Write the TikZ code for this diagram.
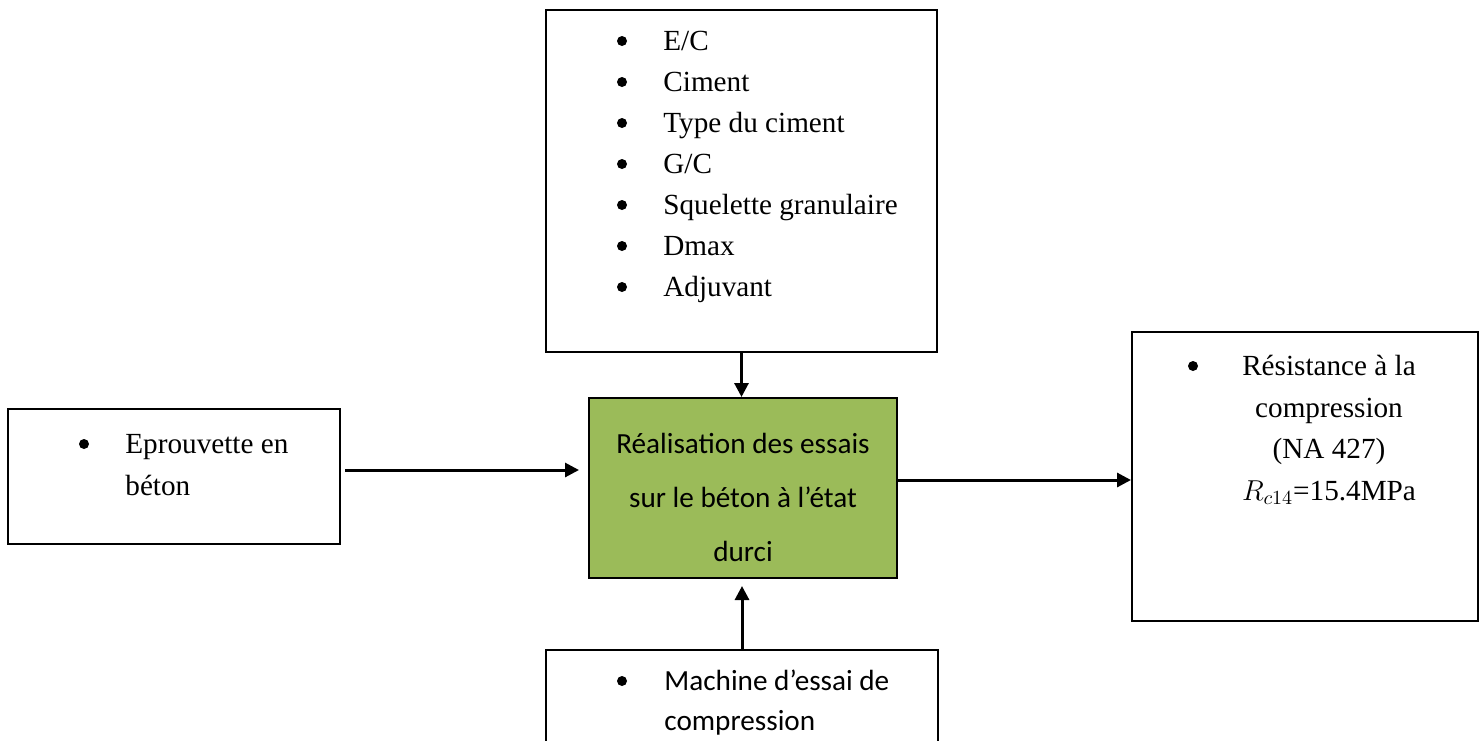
\documentclass[tikz,border=0pt]{standalone}
\usepackage{fontspec}
\setmainfont{Liberation Serif}
\newfontfamily\calfont{Carlito}
\usetikzlibrary{arrows.meta,fit}
\definecolor{olivegreen}{HTML}{9BBB59}
\begin{document}
\begin{tikzpicture}[x=0.5pt,y=-0.5pt,
  box/.style={draw=black,line width=1pt,inner sep=0pt},
  tnr/.style={font=\fontsize{14.6}{17}\selectfont,inner sep=0pt},
  cal/.style={font=\calfont\fontsize{14.6}{17}\selectfont,inner sep=0pt},
  dot/.style={circle,fill=black,inner sep=0pt,minimum size=5pt},
  arr/.style={line width=1.5pt,-{Triangle[length=7pt,width=7pt]}}]
\useasboundingbox (0,0) rectangle (1483,740);
\clip (0,0) rectangle (1483,740);
% boxes
\node[box,fit={(546,10) (937,352)}] (top) {};
\node[box,fill=olivegreen,fit={(589,398) (897,578)}] (green) {};
\node[box,fit={(8,409) (340,544)}] (left) {};
\node[box,fit={(1132,332) (1478,621)}] (right) {};
\node[box,fit={(546,650) (938,790)}] (bottom) {};
% top box list
\foreach \i/\t in {1/{E/C},2/{Ciment},3/{Type du ciment},4/{G/C},5/{Squelette granulaire},6/{Dmax},7/{Adjuvant}}{
  \node[dot] (tb\i) at (622,{41+41*(\i-1)}) {};
  \node[tnr,anchor=base west] (tt\i) at (663,{50+41*(\i-1)}) {\t};
}
% green box
\node[cal,anchor=base] (g1) at (743,453) {Réalisation des essais};
\node[cal,anchor=base] (g2) at (743,507) {sur le béton à l’état};
\node[cal,anchor=base] (g3) at (743,561) {durci};
% left box
\node[dot] (lb) at (84,444) {};
\node[tnr,anchor=base west] (l1) at (125,453) {Eprouvette en};
\node[tnr,anchor=base west] (l2) at (125,495) {béton};
% right box
\node[dot] (rb) at (1193,366) {};
\node[tnr,anchor=base] (r1) at (1329,375) {Résistance à la};
\node[tnr,anchor=base] (r2) at (1329,417) {compression};
\node[tnr,anchor=base] (r3) at (1329,458) {(NA 427)};
\node[tnr,anchor=base] (r4) at (1329,500) {$R_{c14}$=15.4MPa};
% bottom box
\node[dot] (bb) at (622,681) {};
\node[cal,anchor=base west] (b1) at (664,690) {Machine d’essai de};
\node[cal,anchor=base west] (b2) at (664,730) {compression};
% connectors
\draw[arr] (top.south) -- (top.south |- green.north);
\draw[arr,shorten <=2pt,shorten >=4.5pt] (left.east |- 0,470) -- (green.west |- 0,470);
\draw[arr] (green.east |- 0,480) -- (right.west |- 0,480);
\draw[arr,shorten >=3.5pt] (bottom.north) -- (bottom.north |- green.south);
\end{tikzpicture}
\end{document}
